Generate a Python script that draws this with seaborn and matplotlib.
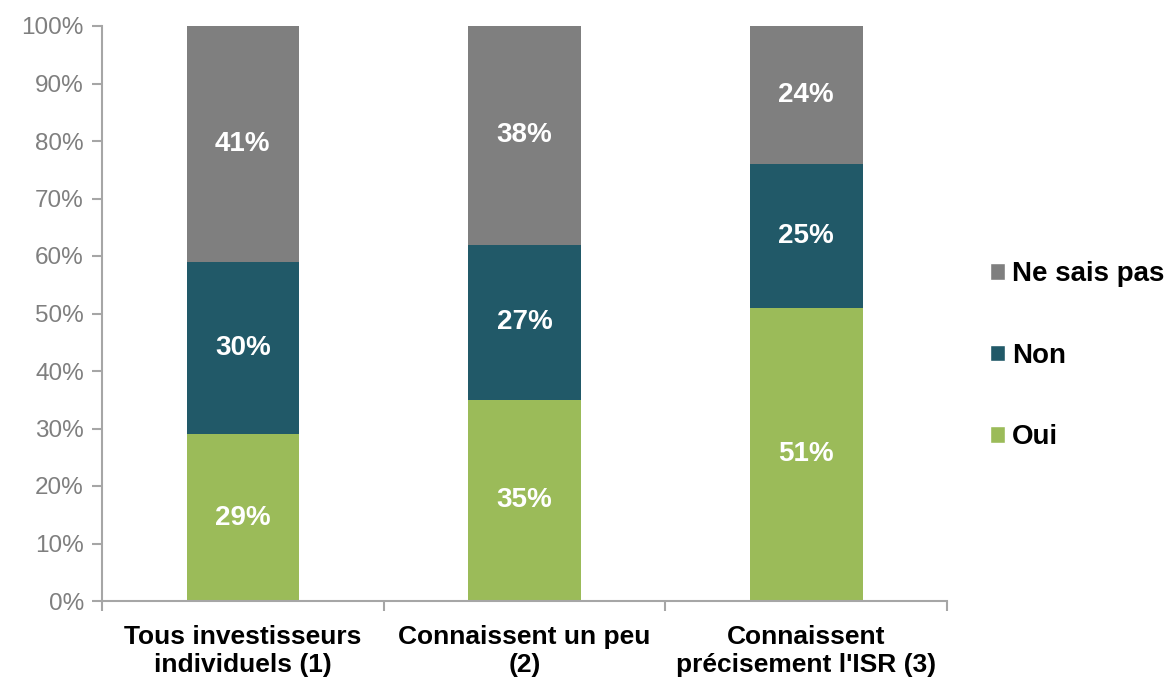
import matplotlib
matplotlib.use("Agg")
import matplotlib.pyplot as plt
import seaborn as sns
import numpy as np
from matplotlib.ticker import FuncFormatter
from matplotlib.patches import Patch

categories = ["Tous investisseurs\nindividuels (1)", "Connaissent un peu\n(2)", "Connaissent\nprécisement l'ISR (3)"]
oui = [29, 35, 51]
non = [30, 27, 25]
nsp = [41, 38, 24]
series_names = ["Oui", "Non", "Ne sais pas"]
colors = ["#9BBB59", "#215968", "#7F7F7F"]

sns.set_theme(style="white")
plt.rcParams['font.family'] = ['Liberation Sans', 'DejaVu Sans']

fig = plt.figure(figsize=(11.68, 6.79), dpi=100)
ax = fig.add_axes([102/1168, 1-601/679, (947-102)/1168, (601-26)/679])

bottoms = np.zeros(3)
for vals, name, col in zip([oui, non, nsp], series_names, colors):
    sns.barplot(x=list(range(3)), y=vals, bottom=bottoms, color=col, width=0.4,
                ax=ax, native_scale=True, saturation=1, linewidth=0)
    cont = ax.containers[-1]
    ax.bar_label(cont, labels=[f"{v}%" for v in vals], label_type="center",
                 color="white", fontsize=20, fontweight="bold")
    bottoms = bottoms + np.array(vals)

ax.set_xlim(-0.5, 2.5)
ax.set_ylim(0, 100)
ax.set_yticks(np.arange(0, 101, 10))
ax.yaxis.set_major_formatter(FuncFormatter(lambda v, p: f"{int(v)}%"))
ax.tick_params(axis="y", which="major", left=True, length=7, width=1.5, color="#A6A6A6",
               labelsize=17.5, labelcolor="#7F7F7F", pad=6)
ax.set_xticks([0, 1, 2])
ax.set_xticklabels(categories, fontsize=19, fontweight="bold", color="black", linespacing=1.25)
ax.set_xticks([-0.5, 0.5, 1.5, 2.5], minor=True)
ax.tick_params(axis="x", which="major", length=0, pad=17)
ax.tick_params(axis="x", which="minor", bottom=True, length=7, width=1.5, color="#A6A6A6")
ax.set_xlabel("")
ax.set_ylabel("")
for s in ["top", "right"]:
    ax.spines[s].set_visible(False)
for s in ["left", "bottom"]:
    ax.spines[s].set_color("#A6A6A6")
    ax.spines[s].set_linewidth(1.5)
ax.grid(False)

handles = [Patch(facecolor=c, label=n) for c, n in zip(colors, series_names)][::-1]
leg = fig.legend(handles=handles, loc="center left", bbox_to_anchor=(0.826, 0.476),
                 frameon=False, prop={"size": 20, "weight": "bold"}, labelcolor="black",
                 handlelength=0.55, handleheight=0.55, handletextpad=0.25, labelspacing=2.0)

fig.savefig("out.png", dpi=100)
